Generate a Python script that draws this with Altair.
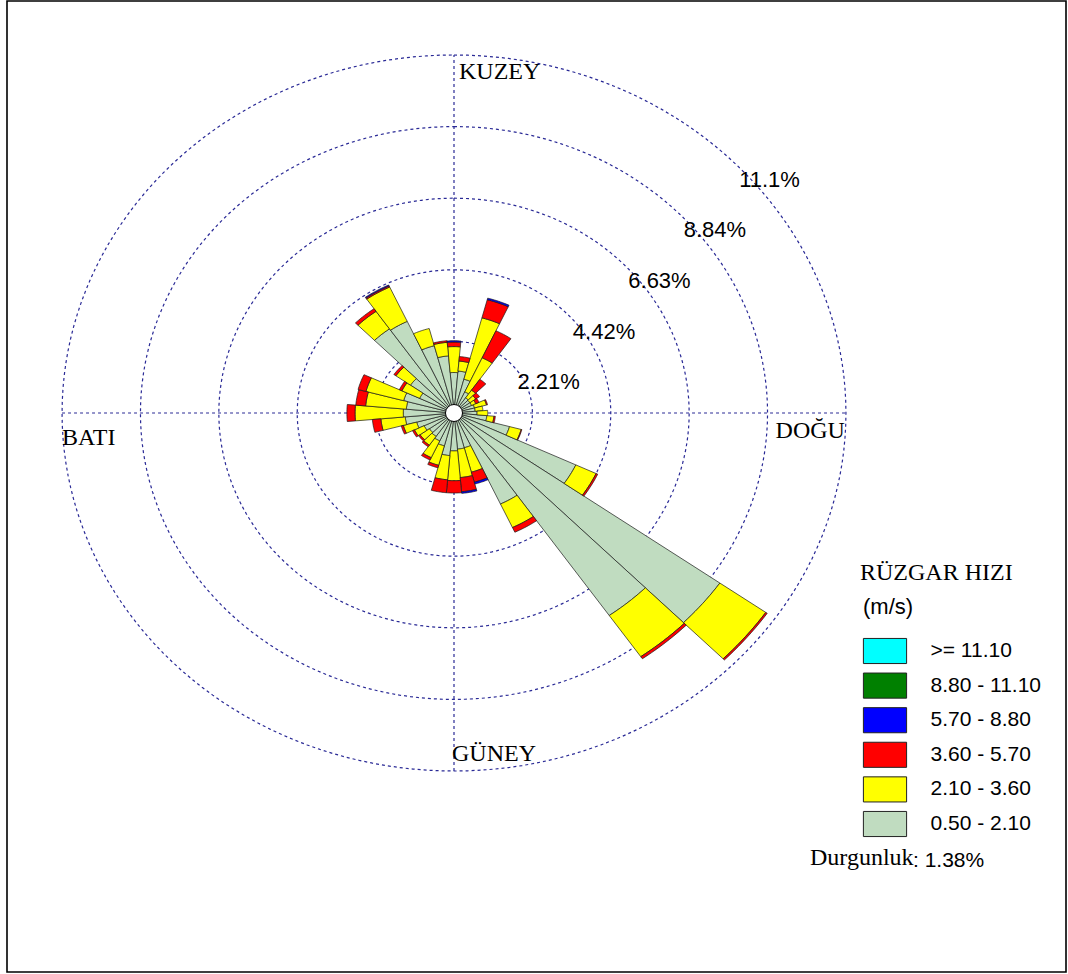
import altair as alt
import pandas as pd

# Sector centres (degrees clockwise from north)
directions = list(range(0, 360, 10))

# Frequency (%) per sector for each wind-speed class (m/s)
speed_050_210 = [1.25, 1.30, 1.08, 0.72, 0.57, 0.55, 0.55, 0.60, 0.60, 0.65, 0.93, 1.62,
                 3.79, 9.15, 7.63, 3.10, 1.11, 1.12, 1.17, 1.32, 1.05, 0.95, 0.88, 0.85,
                 0.93, 1.09, 1.38, 1.43, 1.35, 1.47, 1.07, 1.50, 3.17, 3.12, 2.15, 1.77]
speed_210_360 = [0.80, 0.31, 1.96, 1.16, 0.29, 0.20, 0.13, 0.35, 0.22, 0.30, 0.20, 0.34,
                 0.63, 1.58, 1.55, 0.80, 0.78, 0.88, 0.92, 0.75, 0.62, 0.57, 0.33, 0.32,
                 0.30, 0.39, 0.69, 1.36, 1.15, 1.10, 0.55, 0.50, 0.66, 1.17, 0.55, 0.42]
speed_360_570 = [0.14, 0.14, 0.58, 0.92, 0.41, 0.13, 0.10, 0.03, 0.00, 0.00, 0.04, 0.02,
                 0.05, 0.05, 0.08, 0.16, 0.32, 0.44, 0.38, 0.40, 0.08, 0.08, 0.06, 0.05,
                 0.06, 0.06, 0.24, 0.23, 0.28, 0.23, 0.08, 0.07, 0.10, 0.04, 0.00, 0.05]
speed_570_880 = [0.04, 0.00, 0.05, 0.00, 0.00, 0.00, 0.00, 0.00, 0.00, 0.00, 0.00, 0.00,
                 0.00, 0.00, 0.00, 0.00, 0.06, 0.05, 0.00, 0.00, 0.00, 0.00, 0.00, 0.00,
                 0.00, 0.00, 0.00, 0.00, 0.00, 0.00, 0.00, 0.00, 0.00, 0.03, 0.00, 0.00]
speed_880_1110 = [0.00, 0.00, 0.00, 0.00, 0.00, 0.00, 0.00, 0.00, 0.00, 0.00, 0.00, 0.00,
                  0.00, 0.00, 0.00, 0.00, 0.00, 0.00, 0.00, 0.00, 0.00, 0.00, 0.00, 0.00,
                  0.00, 0.00, 0.00, 0.00, 0.00, 0.00, 0.00, 0.00, 0.00, 0.00, 0.00, 0.00]
speed_over_1110 = [0.00, 0.00, 0.00, 0.00, 0.00, 0.00, 0.00, 0.00, 0.00, 0.00, 0.00, 0.00,
                   0.00, 0.00, 0.00, 0.00, 0.00, 0.00, 0.00, 0.00, 0.00, 0.00, 0.00, 0.00,
                   0.00, 0.00, 0.00, 0.00, 0.00, 0.00, 0.00, 0.00, 0.00, 0.00, 0.00, 0.00]

# Speed classes from the centre outwards, with their colours
speed_classes = ["0.50 - 2.10", "2.10 - 3.60", "3.60 - 5.70",
                 "5.70 - 8.80", "8.80 - 11.10", ">= 11.10"]
class_colors = ["#C0DCC0", "#FFFF00", "#FF0000", "#0000FF", "#008000", "#00FFFF"]
class_series = [speed_050_210, speed_210_360, speed_360_570,
                speed_570_880, speed_880_1110, speed_over_1110]

# Frequency rings and their labels
ring_values = [2.21, 4.42, 6.63, 8.84, 11.05]
ring_labels = ["2.21%", "4.42%", "6.63%", "8.84%", "11.1%"]
R_MAX = ring_values[-1]

compass_names = ["KUZEY", "DOĞU", "GÜNEY", "BATI"]
calm_label = "Durgunluk"
calm_value = ": 1.38%"

# ---- layout (pixels) ----
FRAME_L, FRAME_T, FRAME_W, FRAME_H = 7, 1, 1059, 971
CX, CY = 454, 413            # rose centre on the page
KX, KY = 35.47, 32.4         # pixels per percent, horizontally / vertically

x_scale = alt.Scale(domain=[(FRAME_L - CX) / KX, (FRAME_L + FRAME_W - CX) / KX],
                    nice=False, zero=False)
y_scale = alt.Scale(domain=[(CY - (FRAME_T + FRAME_H)) / KY, (CY - FRAME_T) / KY],
                    nice=False, zero=False)

def xq(field):
    return alt.X(field, type="quantitative", scale=x_scale, axis=None)

def yq(field):
    return alt.Y(field, type="quantitative", scale=y_scale, axis=None)

# ---- long table of sector segments ----
rows = []
for ci, (name, series) in enumerate(zip(speed_classes, class_series)):
    for d, v in zip(directions, series):
        rows.append({"direction": d, "cls": name, "cls_idx": ci, "value": v})
segments = pd.DataFrame(rows)

ARC = 10        # points along each arc edge
HALF = 5.0      # half sector width in degrees

wedges = (
    alt.Chart(segments)
    .transform_window(r_out="sum(value)", groupby=["direction"],
                      sort=[alt.SortField("cls_idx")], frame=[None, 0])
    .transform_calculate(r_in="datum.r_out - datum.value",
                         seg="datum.direction + '_' + datum.cls")
    .transform_filter("datum.value > 0")
    .transform_calculate(k=f"sequence(0, {2 * ARC + 2})")
    .transform_flatten(["k"])
    .transform_calculate(
        j=f"datum.k <= {ARC} ? datum.k : {2 * ARC + 1} - datum.k",
        rr=f"datum.k <= {ARC} ? datum.r_out : datum.r_in",
    )
    .transform_calculate(
        ang=f"(datum.direction - {HALF} + datum.j * {2 * HALF / ARC}) * PI / 180"
    )
    .transform_calculate(px="datum.rr * sin(datum.ang)",
                         py="datum.rr * cos(datum.ang)")
    .mark_line(interpolate="linear-closed", stroke="#1a1a1a", strokeWidth=0.7)
    .encode(
        x=xq("px"), y=yq("py"),
        order=alt.Order("k:Q"),
        detail=alt.Detail("seg:N"),
        fill=alt.Fill(
            "cls:N",
            scale=alt.Scale(domain=speed_classes[::-1], range=class_colors[::-1]),
            legend=alt.Legend(
                title=None, orient="none",
                legendX=871.0 - FRAME_L, legendY=637.0 - FRAME_T,
                symbolType="M-1.6,-0.93H1.6V0.93H-1.6Z", symbolSize=729,
                symbolStrokeColor="#222222", symbolStrokeWidth=1, symbolOpacity=1,
                labelFont="Liberation Sans", labelFontSize=21, labelColor="black",
                labelOffset=31.5, rowPadding=4.6, padding=0, labelLimit=300,
            ),
        ),
    )
)

# ---- dashed frequency rings ----
rings_df = pd.DataFrame({"r": ring_values, "label": ring_labels})
rings = (
    alt.Chart(rings_df)
    .transform_calculate(a="sequence(0, 361, 2)")
    .transform_flatten(["a"])
    .transform_calculate(px="datum.r * sin(datum.a * PI / 180)",
                         py="datum.r * cos(datum.a * PI / 180)")
    .mark_line(color="#2a2a96", strokeWidth=1.2, strokeDash=[3, 3])
    .encode(x=xq("px"), y=yq("py"), order=alt.Order("a:Q"), detail=alt.Detail("r:Q"))
)

# ring labels at the 45 degree point of each ring
ring_text = (
    alt.Chart(rings_df)
    .transform_calculate(px="datum.r * sin(PI / 4)", py="datum.r * cos(PI / 4)")
    .mark_text(align="left", baseline="alphabetic", dx=8, dy=27,
               font="Liberation Sans", fontSize=22, color="black")
    .encode(x=xq("px"), y=yq("py"), text="label:N")
)

# ---- N-S and E-W axis lines ----
axes_df = pd.DataFrame({"x": [-R_MAX, 0.0], "x2": [R_MAX, 0.0],
                        "y": [0.0, -R_MAX], "y2": [0.0, R_MAX]})
axes = (
    alt.Chart(axes_df)
    .mark_rule(color="#2a2a96", strokeWidth=1.2, strokeDash=[3, 3])
    .encode(x=xq("x"), x2="x2", y=yq("y"), y2="y2")
)

# ---- compass labels ----
compass_df = pd.DataFrame({"name": compass_names,
                           "x": [0.0, R_MAX, 0.0, -R_MAX],
                           "y": [R_MAX, 0.0, -R_MAX, 0.0]})

def compass(name, align, dx, dy):
    return (
        alt.Chart(compass_df)
        .transform_filter(alt.datum.name == name)
        .mark_text(align=align, baseline="alphabetic", dx=dx, dy=dy,
                   font="Liberation Serif", fontSize=24, color="black")
        .encode(x=xq("x"), y=yq("y"), text="name:N")
    )

compass_text = (compass("KUZEY", "left", 5, 24) + compass("DOĞU", "right", -1, 25)
                + compass("GÜNEY", "left", -2, -10) + compass("BATI", "left", 0, 32))

# ---- calm circle at the centre ----
centre_df = pd.DataFrame({"x": [0.0], "y": [0.0]})
centre = (
    alt.Chart(centre_df)
    .mark_point(filled=True, fill="white", stroke="black", strokeWidth=1,
                size=290, opacity=1, shape="circle")
    .encode(x=xq("x"), y=yq("y"))
)

# ---- legend heading and calm note ----
def note(text, font, size, px, py):
    return (
        alt.Chart(pd.DataFrame({"t": [text]}))
        .mark_text(align="left", baseline="alphabetic", font=font,
                   fontSize=size, color="black")
        .encode(x=alt.value(px - FRAME_L), y=alt.value(py - FRAME_T), text="t:N")
    )

notes = (note("RÜZGAR HIZI", "Liberation Serif", 24, 860, 580)
         + note("(m/s)", "Liberation Sans", 22, 863, 614)
         + note(calm_label, "Liberation Serif", 24, 810, 865)
         + note(calm_value, "Liberation Sans", 21, 913, 867))

chart = (
    alt.layer(rings, axes, wedges, centre, ring_text, compass_text, notes)
    .properties(width=FRAME_W, height=FRAME_H,
                padding={"left": FRAME_L, "top": FRAME_T, "right": 2, "bottom": 2},
                autosize=alt.AutoSizeParams(type="none"))
    .configure(background="white",
               view=alt.ViewConfig(stroke="black", strokeWidth=1.6))
)

chart.save("out.html", embed_options={"renderer": "svg", "actions": False})
